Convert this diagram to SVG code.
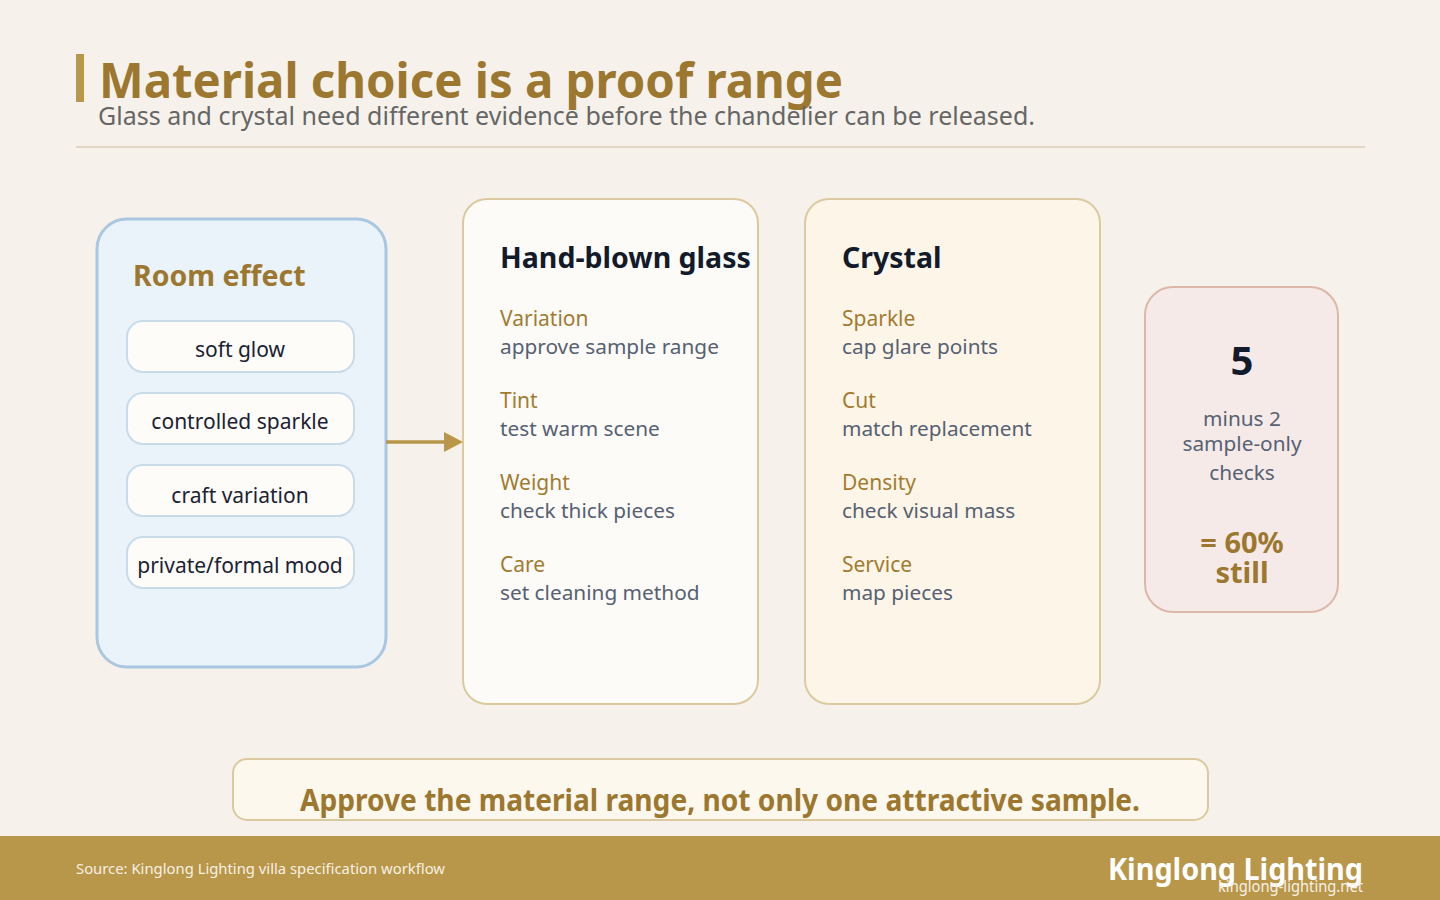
<svg xmlns="http://www.w3.org/2000/svg" width="1440" height="900" viewBox="0 0 1440 900">
<defs>
<style>
text{font-family:"Noto Sans","Open Sans","DejaVu Sans",sans-serif}
.title{font-size:48px;font-weight:700;fill:#9c7730}
.sub{font-size:25px;fill:#666666}
.head{font-size:28.5px;font-weight:700;fill:#121b2c}
.lbl{font-size:21px;fill:#a27b32}
.desc{font-size:20.8px;fill:#566173}
.pill{fill:#fdfcf8;stroke:#c9dbea;stroke-width:2}
.ptxt{font-size:21px;fill:#1b2233;text-anchor:middle}
.card{stroke:#dcc9a0;stroke-width:2}
</style>
</defs>
<rect width="1440" height="900" fill="#f6f2eb"/>
<g id="header">
<rect x="76" y="54" width="8" height="48" fill="#b8964a"/>
<text x="99" y="98" class="title" textLength="744" lengthAdjust="spacingAndGlyphs">Material choice is a proof range</text>
<text x="98" y="125" class="sub" textLength="937" lengthAdjust="spacingAndGlyphs">Glass and crystal need different evidence before the chandelier can be released.</text>
<line x1="76" y1="147" x2="1365" y2="147" stroke="#e2d7c3" stroke-width="2"/>
</g>
<g id="room-effect">
<rect x="97" y="219" width="289" height="448" rx="30" fill="#eaf3f9" stroke="#a9c7e0" stroke-width="3"/>
<text x="133" y="286" style="font-size:28.5px;font-weight:700;fill:#9c7730">Room effect</text>
<rect class="pill" x="127" y="321" width="227" height="51" rx="16"/>
<text x="240" y="357" class="ptxt">soft glow</text>
<rect class="pill" x="127" y="393" width="227" height="51" rx="16"/>
<text x="240" y="429" class="ptxt">controlled sparkle</text>
<rect class="pill" x="127" y="465" width="227" height="51" rx="16"/>
<text x="240" y="503" class="ptxt">craft variation</text>
<rect class="pill" x="127" y="537" width="227" height="51" rx="16"/>
<text x="240" y="573" class="ptxt">private/formal mood</text>
</g>
<g id="connectors">
<line x1="386" y1="442" x2="447" y2="442" stroke="#b8964a" stroke-width="3.5"/>
<polygon points="444,432 463,442 444,452" fill="#b8964a"/>
</g>
<g id="glass">
<rect class="card" x="463" y="199" width="295" height="505" rx="24" fill="#fdfbf7"/>
<text x="500" y="268" class="head">Hand-blown glass</text>
<text x="500" y="326" class="lbl">Variation</text>
<text x="500" y="354" class="desc">approve sample range</text>
<text x="500" y="408" class="lbl">Tint</text>
<text x="500" y="436" class="desc">test warm scene</text>
<text x="500" y="490" class="lbl">Weight</text>
<text x="500" y="518" class="desc">check thick pieces</text>
<text x="500" y="572" class="lbl">Care</text>
<text x="500" y="600" class="desc">set cleaning method</text>
</g>
<g id="crystal">
<rect class="card" x="805" y="199" width="295" height="505" rx="24" fill="#fdf6e8"/>
<text x="842" y="268" class="head">Crystal</text>
<text x="842" y="326" class="lbl">Sparkle</text>
<text x="842" y="354" class="desc">cap glare points</text>
<text x="842" y="408" class="lbl">Cut</text>
<text x="842" y="436" class="desc">match replacement</text>
<text x="842" y="490" class="lbl">Density</text>
<text x="842" y="518" class="desc">check visual mass</text>
<text x="842" y="572" class="lbl">Service</text>
<text x="842" y="600" class="desc">map pieces</text>
</g>
<g id="score">
<rect x="1145" y="287" width="193" height="325" rx="28" fill="#f5eae7" stroke="#dcb8a8" stroke-width="2"/>
<text x="1242" y="375" text-anchor="middle" style="font-size:40px;font-weight:700;fill:#121b2c">5</text>
<text x="1242" y="426" text-anchor="middle" class="desc">minus 2</text>
<text x="1242" y="451" text-anchor="middle" class="desc">sample-only</text>
<text x="1242" y="480" text-anchor="middle" class="desc">checks</text>
<text x="1242" y="553" text-anchor="middle" style="font-size:29px;font-weight:700;fill:#9c7730">= 60%</text>
<text x="1242" y="583" text-anchor="middle" style="font-size:29px;font-weight:700;fill:#9c7730">still</text>
</g>
<g id="takeaway">
<rect x="233" y="759" width="975" height="61" rx="14" fill="#fdf8ee" stroke="#dcc9a0" stroke-width="2"/>
<text x="720" y="811" text-anchor="middle" textLength="840" lengthAdjust="spacingAndGlyphs" style="font-size:30px;font-weight:700;fill:#9c7730">Approve the material range, not only one attractive sample.</text>
</g>
<g id="footer">
<rect x="0" y="836" width="1440" height="64" fill="#b8964a"/>
<text x="76" y="874" textLength="369" lengthAdjust="spacingAndGlyphs" style="font-size:15px;fill:#f7f1e3">Source: Kinglong Lighting villa specification workflow</text>
<text x="1363" y="880" text-anchor="end" textLength="255" lengthAdjust="spacingAndGlyphs" style="font-size:30px;font-weight:700;fill:#ffffff">Kinglong Lighting</text>
<text x="1363" y="892" text-anchor="end" textLength="145" lengthAdjust="spacingAndGlyphs" style="font-size:16px;fill:#f7f1e3">kinglong-lighting.net</text>
</g>
</svg>
